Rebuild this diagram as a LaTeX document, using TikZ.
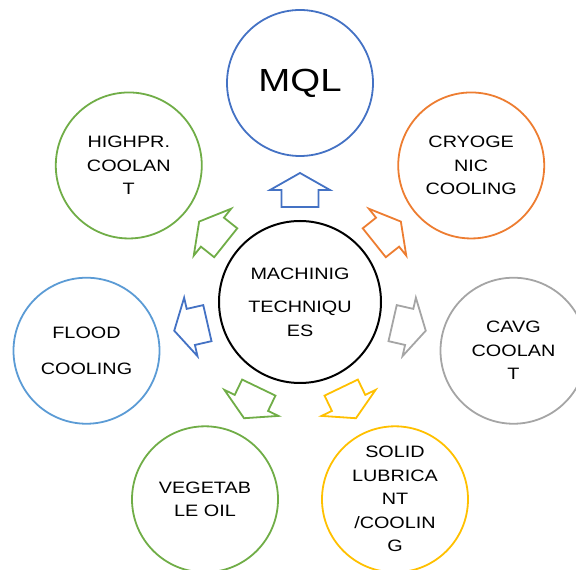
\documentclass[tikz,border=0pt]{standalone}
\usepackage{fontspec}
\usetikzlibrary{calc}
\setmainfont{Liberation Sans}[FakeStretch=1.2]
\definecolor{cblue}{HTML}{4472C4}
\definecolor{corange}{HTML}{ED7D31}
\definecolor{cgray}{HTML}{A5A5A5}
\definecolor{cgold}{HTML}{FFC000}
\definecolor{cgreen}{HTML}{70AD47}
\definecolor{clblue}{HTML}{5B9BD5}
\begin{document}
\begin{tikzpicture}[x=1pt,y=1pt,
  outer/.style={circle,draw=#1,line width=1.8pt,minimum size=146pt,inner sep=0pt,
    align=center,font=\fontsize{16.5}{23.5}\selectfont},
  hub/.style={circle,draw=black,line width=2pt,minimum size=162pt,inner sep=0pt,
    align=center,font=\fontsize{16.5}{23.5}\selectfont},
  blockarrow/.style={draw=#1,line width=1.8pt,line join=miter,fill=white}]
\useasboundingbox (0,0) rectangle (576,570);
\node[hub] (mt) at (300,268) {MACHINIG\\[10pt]TECHNIQU\\ES};
\node[outer=cblue,font=\fontsize{32}{36}\selectfont] (mql) at ($(mt)+(90:219)$) {MQL};
\node[outer=corange] (cryo) at ($(mt)+(38.57:219)$) {CRYOGE\\NIC\\COOLING};
\node[outer=cgray] (cavg) at ($(mt)+(-12.86:219)$) {CAVG\\COOLAN\\T};
\node[outer=cgold] (solid) at ($(mt)+(-64.29:219)$) {SOLID\\LUBRICA\\NT\\/COOLIN\\G};
\node[outer=cgreen] (veg) at ($(mt)+(-115.71:219)$) {VEGETAB\\LE OIL};
\node[outer=clblue] (flood) at ($(mt)+(-167.14:219)$) {FLOOD\\[13pt]COOLING};
\node[outer=cgreen] (hp) at ($(mt)+(141.43:219)$) {HIGHPR.\\COOLAN\\T};
\foreach \ang/\col in {90/cblue,38.57/corange,-12.86/cgray,-64.29/cgold,-115.71/cgreen,-167.14/cblue,141.43/cgreen}{
  \begin{scope}[shift={(mt.center)},rotate=\ang]
    \draw[blockarrow=\col] (95,-18.5) -- (112,-18.5) -- (112,-30) -- (129,0)
      -- (112,30) -- (112,18.5) -- (95,18.5) -- cycle;
  \end{scope}
}
\end{tikzpicture}
\end{document}
